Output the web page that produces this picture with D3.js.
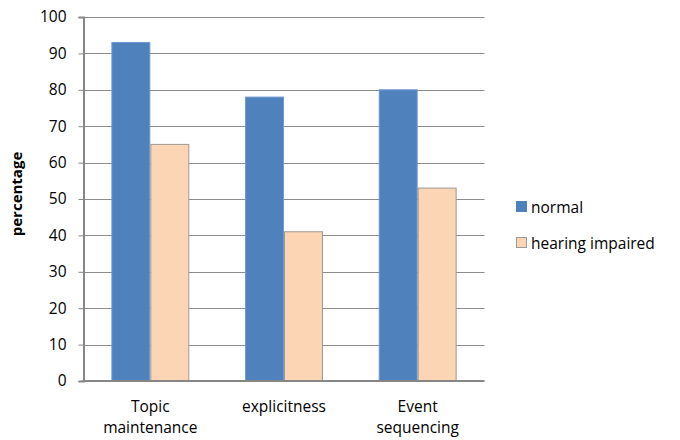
<!DOCTYPE html>
<html>
<head>
<meta charset="utf-8">
<script src="https://cdn.jsdelivr.net/npm/d3@7"></script>
<style>
  body { margin: 0; background: #fff; }
  svg text { font-family: "Open Sans", "Liberation Sans", sans-serif; fill: #000; }
</style>
</head>
<body>
<svg id="chart" width="680" height="440"></svg>
<script>
// Chart data
const categories = ["Topic maintenance", "explicitness", "Event sequencing"];
const categoryLines = [["Topic", "maintenance"], ["explicitness"], ["Event", "sequencing"]];
const seriesNames = ["normal", "hearing impaired"];
const normalValues = [93, 78, 80];
const impairedValues = [65, 41, 53];
const yTicks = [0, 10, 20, 30, 40, 50, 60, 70, 80, 90, 100];

const fills = ["#4F81BD", "#FCD5B5"];
const strokes = ["#6F9AD0", "#A09890"];

const svg = d3.select("#chart");
const margin = { left: 83.5, right: 195.5, top: 17, bottom: 59 };
const W = 680, H = 440;

const x = d3.scaleBand().domain(categories)
  .range([margin.left, W - margin.right])
  .paddingInner(0).paddingOuter(0);
const x1 = d3.scaleBand().domain(seriesNames)
  .range([0, x.bandwidth()])
  .paddingInner(0).paddingOuter(0.716);
const y = d3.scaleLinear().domain([0, 100]).range([H - margin.bottom, margin.top]);

// Gridlines
svg.append("g")
  .selectAll("line").data(yTicks.filter(d => d > 0)).join("line")
  .attr("x1", margin.left).attr("x2", W - margin.right)
  .attr("y1", d => Math.round(y(d)) + 0.5).attr("y2", d => Math.round(y(d)) + 0.5)
  .attr("stroke", "#8C8C8C").attr("stroke-width", 1);

// Bars
const rows = categories.map((c, i) => ({ cat: c, vals: [normalValues[i], impairedValues[i]] }));
const groups = svg.append("g").selectAll("g").data(rows).join("g")
  .attr("transform", d => `translate(${x(d.cat)},0)`);
groups.selectAll("rect")
  .data(d => d.vals.map((v, k) => ({ k, v })))
  .join("rect")
  .attr("x", d => x1(seriesNames[d.k]) + 0.5)
  .attr("width", x1.bandwidth() - 1)
  .attr("y", d => y(d.v))
  .attr("height", d => y(0) - y(d.v))
  .attr("fill", d => fills[d.k])
  .attr("stroke", d => strokes[d.k])
  .attr("stroke-width", 1);

// Y axis
const yAxis = d3.axisLeft(y).tickValues(yTicks).tickSize(5).tickPadding(12);
const gy = svg.append("g").attr("transform", `translate(${margin.left},0)`).call(yAxis);
gy.select(".domain").attr("stroke", "#868686").attr("stroke-width", 2);
gy.selectAll(".tick line").attr("stroke", "#868686");
gy.selectAll(".tick text").attr("font-size", 15.5).attr("font-family", "Open Sans, sans-serif");

// X axis baseline
svg.append("line")
  .attr("x1", margin.left - 1).attr("x2", W - margin.right)
  .attr("y1", y(0)).attr("y2", y(0))
  .attr("stroke", "#868686").attr("stroke-width", 2);

// Category labels
const xl = svg.append("g").selectAll("text").data(categories).join("text")
  .attr("text-anchor", "middle")
  .attr("font-size", 15.5)
  .attr("x", d => x(d) + x.bandwidth() / 2)
  .attr("y", y(0) + 31);
xl.each(function (d, i) {
  d3.select(this).selectAll("tspan").data(categoryLines[i]).join("tspan")
    .attr("x", x(d) + x.bandwidth() / 2)
    .attr("dy", (t, j) => j === 0 ? 0 : 21)
    .text(t => t);
});

// Y axis title
svg.append("text")
  .attr("transform", `translate(22,${194}) rotate(-90)`)
  .attr("text-anchor", "middle")
  .attr("font-size", 15)
  .attr("font-weight", "bold")
  .text("percentage");

// Legend
const legend = svg.append("g").selectAll("g").data(seriesNames).join("g")
  .attr("transform", (d, i) => `translate(516,${201 + i * 36})`);
legend.append("rect")
  .attr("x", 0.5).attr("y", 0.5).attr("width", 10).attr("height", 10)
  .attr("fill", (d, i) => fills[i])
  .attr("stroke", (d, i) => i === 0 ? fills[0] : "#999")
  .attr("stroke-width", 1);
legend.append("text")
  .attr("x", 15).attr("y", 11.5)
  .attr("font-size", 15.5)
  .text(d => d);
</script>
</body>
</html>
